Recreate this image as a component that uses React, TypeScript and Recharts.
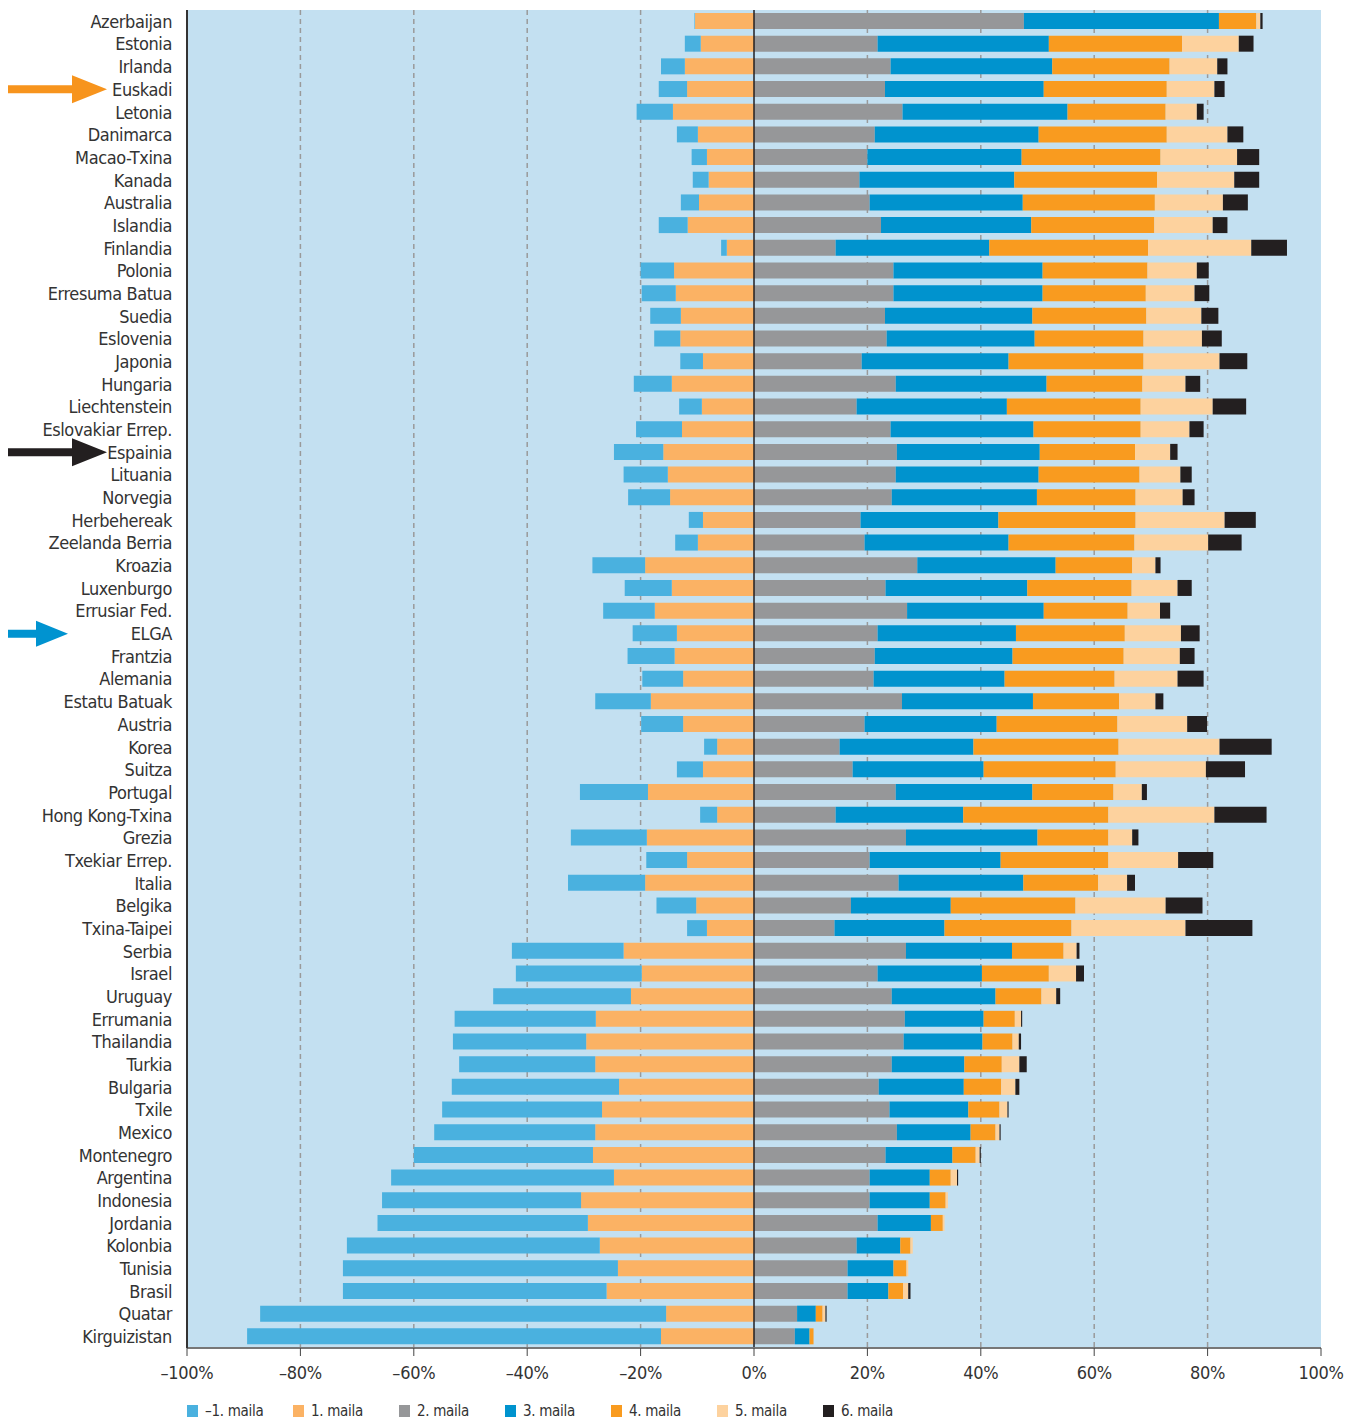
import { BarChart, Bar, XAxis, YAxis, CartesianGrid, ReferenceLine } from "recharts";

const countries = [
  "Azerbaijan", "Estonia", "Irlanda", "Euskadi", "Letonia", "Danimarca", "Macao-Txina", "Kanada", "Australia", "Islandia",
  "Finlandia", "Polonia", "Erresuma Batua", "Suedia", "Eslovenia", "Japonia", "Hungaria", "Liechtenstein", "Eslovakiar Errep.", "Espainia",
  "Lituania", "Norvegia", "Herbehereak", "Zeelanda Berria", "Kroazia", "Luxenburgo", "Errusiar Fed.", "ELGA", "Frantzia", "Alemania",
  "Estatu Batuak", "Austria", "Korea", "Suitza", "Portugal", "Hong Kong-Txina", "Grezia", "Txekiar Errep.", "Italia", "Belgika",
  "Txina-Taipei", "Serbia", "Israel", "Uruguay", "Errumania", "Thailandia", "Turkia", "Bulgaria", "Txile", "Mexico",
  "Montenegro", "Argentina", "Indonesia", "Jordania", "Kolonbia", "Tunisia", "Brasil", "Quatar", "Kirguizistan",
];

// left side (drawn to the left of zero)
const levelMinus1 = [
  0.1, 2.8, 4.2, 5.0, 6.4, 3.7, 2.7, 2.8, 3.2, 5.1,
  1.0, 5.9, 6.0, 5.4, 4.6, 4.0, 6.7, 4.0, 8.1, 8.7,
  7.8, 7.4, 2.5, 4.0, 9.3, 8.3, 9.1, 7.8, 8.3, 7.2,
  9.8, 7.4, 2.3, 4.6, 12.0, 3.0, 13.4, 7.2, 13.6, 7.0,
  3.5, 19.7, 22.2, 24.3, 24.9, 23.5, 24.0, 29.5, 28.2, 28.4,
  31.6, 39.3, 35.1, 37.1, 44.6, 48.5, 46.5, 71.6, 73.0,
];
const level1 = [
  10.4, 9.4, 12.2, 11.8, 14.3, 9.9, 8.3, 8.0, 9.7, 11.7,
  4.8, 14.1, 13.8, 12.9, 13.0, 9.0, 14.5, 9.2, 12.7, 16.0,
  15.2, 14.8, 9.0, 9.9, 19.2, 14.5, 17.5, 13.6, 14.0, 12.5,
  18.2, 12.5, 6.5, 9.0, 18.7, 6.5, 18.9, 11.8, 19.2, 10.2,
  8.3, 23.0, 19.8, 21.7, 27.9, 29.6, 28.0, 23.8, 26.8, 28.0,
  28.4, 24.7, 30.5, 29.3, 27.2, 24.0, 26.0, 15.5, 16.4,
];
// right side
const level2 = [
  47.6, 21.8, 24.1, 23.1, 26.2, 21.3, 20.0, 18.6, 20.4, 22.4,
  14.4, 24.6, 24.6, 23.1, 23.4, 19.0, 25.0, 18.1, 24.1, 25.2,
  25.0, 24.3, 18.8, 19.5, 28.8, 23.2, 27.0, 21.8, 21.3, 21.1,
  26.1, 19.5, 15.1, 17.4, 25.0, 14.4, 26.8, 20.4, 25.5, 17.1,
  14.2, 26.8, 21.8, 24.3, 26.6, 26.4, 24.3, 22.0, 23.9, 25.2,
  23.2, 20.4, 20.4, 21.8, 18.1, 16.5, 16.5, 7.6, 7.2,
];
const level3 = [
  34.4, 30.2, 28.5, 28.0, 29.1, 28.9, 27.2, 27.3, 27.0, 26.5,
  27.1, 26.3, 26.3, 26.0, 26.1, 25.9, 26.6, 26.5, 25.2, 25.2,
  25.2, 25.6, 24.3, 25.4, 24.4, 25.0, 24.1, 24.4, 24.3, 23.1,
  23.1, 23.3, 23.6, 23.1, 24.1, 22.5, 23.2, 23.1, 22.0, 17.6,
  19.4, 18.7, 18.4, 18.3, 13.9, 13.9, 12.8, 15.0, 13.9, 13.0,
  11.8, 10.6, 10.6, 9.4, 7.7, 8.1, 7.2, 3.3, 2.6,
];
const level4 = [
  6.6, 23.5, 20.7, 21.7, 17.3, 22.6, 24.5, 25.2, 23.3, 21.7,
  28.0, 18.5, 18.2, 20.1, 19.2, 23.8, 16.9, 23.6, 18.9, 16.8,
  17.8, 17.4, 24.2, 22.2, 13.5, 18.4, 14.8, 19.2, 19.6, 19.4,
  15.2, 21.3, 25.6, 23.3, 14.3, 25.6, 12.5, 19.0, 13.2, 22.0,
  22.4, 9.1, 11.8, 8.1, 5.5, 5.3, 6.6, 6.6, 5.5, 4.4,
  4.1, 3.7, 2.8, 2.1, 1.8, 2.3, 2.6, 1.2, 0.7,
];
const level5 = [
  0.7, 10.0, 8.4, 8.4, 5.5, 10.7, 13.5, 13.6, 12.0, 10.3,
  18.2, 8.7, 8.6, 9.7, 10.3, 13.4, 7.6, 12.7, 8.6, 6.2,
  7.2, 8.3, 15.7, 13.0, 4.1, 8.1, 5.7, 9.9, 9.9, 11.1,
  6.4, 12.3, 17.8, 15.9, 5.0, 18.7, 4.2, 12.3, 5.1, 15.9,
  20.1, 2.3, 4.8, 2.6, 1.1, 1.1, 3.1, 2.5, 1.4, 0.7,
  0.7, 1.1, 0.4, 0.3, 0.4, 0.3, 0.9, 0.5, 0,
];
const level6 = [
  0.4, 2.6, 1.8, 1.8, 1.2, 2.8, 3.9, 4.4, 4.4, 2.6,
  6.3, 2.1, 2.6, 3.0, 3.5, 4.9, 2.6, 5.9, 2.5, 1.3,
  2.0, 2.1, 5.5, 5.9, 0.9, 2.5, 1.8, 3.3, 2.6, 4.6,
  1.4, 3.5, 9.2, 6.9, 0.9, 9.2, 1.1, 6.2, 1.4, 6.5,
  11.8, 0.5, 1.4, 0.7, 0.2, 0.4, 1.3, 0.7, 0.2, 0.2,
  0.2, 0.2, 0, 0, 0, 0, 0.4, 0.2, 0,
];

const xTicks = [-100, -80, -60, -40, -20, 0, 20, 40, 60, 80, 100];

// stacking order: negatives stack outwards from zero in series order
const series = [
  { key: "m1", name: "1. maila", color: "#fbb264" },
  { key: "mneg1", name: "–1. maila", color: "#4ab1df" },
  { key: "m2", name: "2. maila", color: "#969799" },
  { key: "m3", name: "3. maila", color: "#0093ce" },
  { key: "m4", name: "4. maila", color: "#f99b1f" },
  { key: "m5", name: "5. maila", color: "#fdd29e" },
  { key: "m6", name: "6. maila", color: "#231f20" },
];
const legendOrder = ["mneg1", "m1", "m2", "m3", "m4", "m5", "m6"];

const arrows: Record<string, { color: string; small?: boolean }> = {
  Euskadi: { color: "#f7941d" },
  Espainia: { color: "#231f20" },
  ELGA: { color: "#0093d0", small: true },
};

const data = countries.map((country, i) => ({
  country,
  mneg1: -levelMinus1[i],
  m1: -level1[i],
  m2: level2[i],
  m3: level3[i],
  m4: level4[i],
  m5: level5[i],
  m6: level6[i],
}));

const FONT = '"Liberation Sans Narrow", "DejaVu Sans Condensed", "Roboto Condensed", Arial, sans-serif';

function CountryTick(props: any) {
  const { x, y, payload } = props;
  const arrow = arrows[payload.value];
  let path = "";
  if (arrow) {
    path = arrow.small
      ? `M8,${y - 4} L36,${y - 4} L36,${y - 13} L68,${y} L36,${y + 13} L36,${y + 4} L8,${y + 4} Z`
      : `M8,${y - 4} L72,${y - 4} L72,${y - 14} L107,${y} L72,${y + 14} L72,${y + 4} L8,${y + 4} Z`;
  }
  return (
    <g>
      {arrow && <path d={path} fill={arrow.color} />}
      <text
        x={x}
        y={y}
        dy="0.36em"
        textAnchor="end"
        fontSize={18}
        letterSpacing={-0.4}
        fill="#333"
        fontFamily={FONT}
      >
        {payload.value}
      </text>
    </g>
  );
}

const fmt = (v: number) => (v < 0 ? "–" + Math.abs(v) : String(v)) + "%";

export default function App() {
  return (
    <div style={{ position: "absolute", left: 0, top: 0, width: 1361, height: 1420, background: "#fff" }}>
      <BarChart
        width={1361}
        height={1383}
        data={data}
        layout="vertical"
        stackOffset="sign"
        barSize={16}
        margin={{ top: 10, right: 40, bottom: 0, left: 0 }}
      >
        <CartesianGrid
          fill="#c3e0f1"
          horizontal={false}
          verticalValues={[-80, -60, -40, -20, 20, 40, 60, 80]}
          stroke="#9a9a9a"
          strokeDasharray="5 4"
          strokeWidth={1.5}
        />
        <XAxis
          type="number"
          domain={[-100, 100]}
          ticks={xTicks}
          tickFormatter={fmt}
          height={35}
          tickSize={8}
          tickMargin={10}
          interval={0}
          axisLine={{ stroke: "#777", strokeWidth: 2 }}
          tickLine={{ stroke: "#444" }}
          tick={{ fontSize: 18, fill: "#333", fontFamily: FONT, letterSpacing: -0.3 }}
        />
        <YAxis
          type="category"
          dataKey="country"
          width={187}
          interval={0}
          tickLine={false}
          tickSize={6}
          tickMargin={9}
          axisLine={{ stroke: "#333", strokeWidth: 2 }}
          tick={<CountryTick />}
        />
        {series.map((s) => (
          <Bar key={s.key} dataKey={s.key} name={s.name} stackId="a" fill={s.color} isAnimationActive={false} />
        ))}
        <ReferenceLine x={0} stroke="#231f20" strokeWidth={1.5} />
      </BarChart>
      <div
        style={{
          position: "absolute",
          top: 1402,
          left: 187,
          display: "flex",
          fontFamily: FONT,
          fontSize: 15,
          letterSpacing: -0.3,
          color: "#333",
        }}
      >
        {legendOrder.map((k) => {
          const s = series.find((d) => d.key === k)!;
          return (
            <div key={k} style={{ width: 106, display: "flex", alignItems: "center" }}>
              <span style={{ width: 11, height: 12, background: s.color, display: "inline-block", marginRight: 7 }} />
              <span>{s.name}</span>
            </div>
          );
        })}
      </div>
    </div>
  );
}
